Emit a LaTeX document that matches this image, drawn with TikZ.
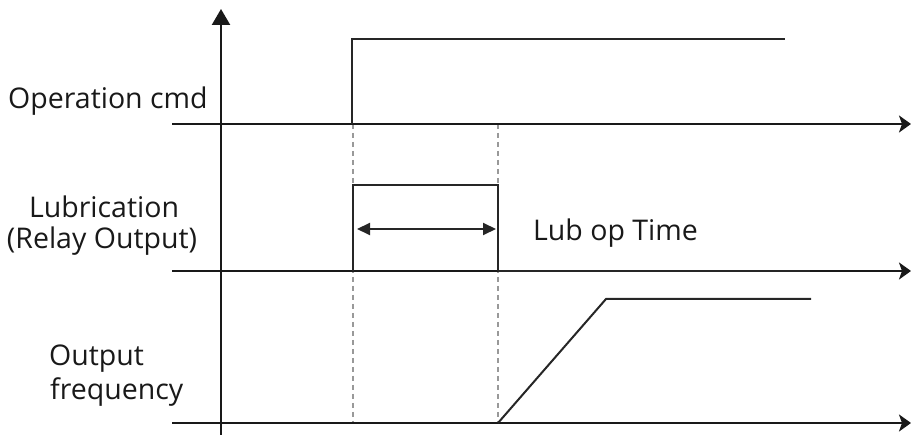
\documentclass[tikz,border=0pt]{standalone}
\usepackage{fontspec}
\setmainfont{Open Sans}
\usetikzlibrary{arrows.meta}
\begin{document}
\begin{tikzpicture}[x=1pt,y=-1pt,
  axis/.style={line width=2.4pt, draw=black!90},
  haxis/.style={axis, -{Stealth[length=12pt,width=17pt,inset=3pt]}},
  sig/.style={line width=2pt, draw=black!85, line join=miter},
  guide/.style={line width=1.5pt, draw=black!40, dash pattern=on 5pt off 4pt},
  lbl/.style={font=\fontsize{28.5}{31}\selectfont, inner sep=0pt, text=black!90}]
\useasboundingbox (0,0) rectangle (911,435);
% coordinates
\coordinate (yb) at (221,435);
\coordinate (yt) at (221,9);
\coordinate (a1s) at (172,124);
\coordinate (a1e) at (911,124);
\coordinate (a2s) at (172,271);
\coordinate (a2e) at (911,271);
\coordinate (a3s) at (172,423);
\coordinate (a3e) at (911,423);
\coordinate (t1) at (353,124);
\coordinate (t1b) at (353,423);
\coordinate (t2) at (498,124);
\coordinate (t2b) at (498,423);
% guides
\draw[guide] (t1) -- (t1b);
\draw[guide] (t2) -- (t2b);
% axes
\draw[axis, -{Triangle[length=16pt,width=18pt]}] (yb) -- (yt);
\draw[haxis] (a1s) -- (a1e);
\draw[haxis] (a2s) -- (a2e);
\draw[haxis] (a3s) -- (a3e);
% operation command
\coordinate (p1a) at (352,124);
\coordinate (p1b) at (352,39);
\coordinate (p1c) at (785,39);
\draw[sig] (p1a) -- (p1b) -- (p1c);
% lubrication
\coordinate (p2a) at (353,271);
\coordinate (p2b) at (353,185);
\coordinate (p2c) at (498,185);
\coordinate (p2d) at (498,271);
\coordinate (p2e) at (810,271);
\draw[sig, line width=1.6pt] (p2a) -- (p2b) -- (p2c) -- (p2d);
\draw[sig, line width=2.8pt] (p2d) -- (p2e);
\coordinate (d1) at (357,229);
\coordinate (d2) at (496,229);
\draw[line width=2pt, draw=black!85, {Triangle[length=13pt,width=12pt]}-{Triangle[length=13pt,width=12pt]}] (d1) -- (d2);
% output frequency
\coordinate (f1) at (498,423);
\coordinate (f2) at (606,299);
\coordinate (f3) at (811,299);
\draw[sig] (f1) -- (f2) -- (f3);
% labels
\node[lbl, anchor=base west] (opcmd) at (8,109) {Operation cmd};
\node[lbl, anchor=base] (lub1) at (104,218) {Lubrication};
\node[lbl, anchor=base] (lub2) at (102,249) {(Relay Output)};
\node[lbl, anchor=base west] (of1) at (49,366) {Output};
\node[lbl, anchor=base west] (of2) at (50,400) {frequency};
\node[lbl, anchor=base west] (lubt) at (533,241) {Lub op Time};
\end{tikzpicture}
\end{document}
